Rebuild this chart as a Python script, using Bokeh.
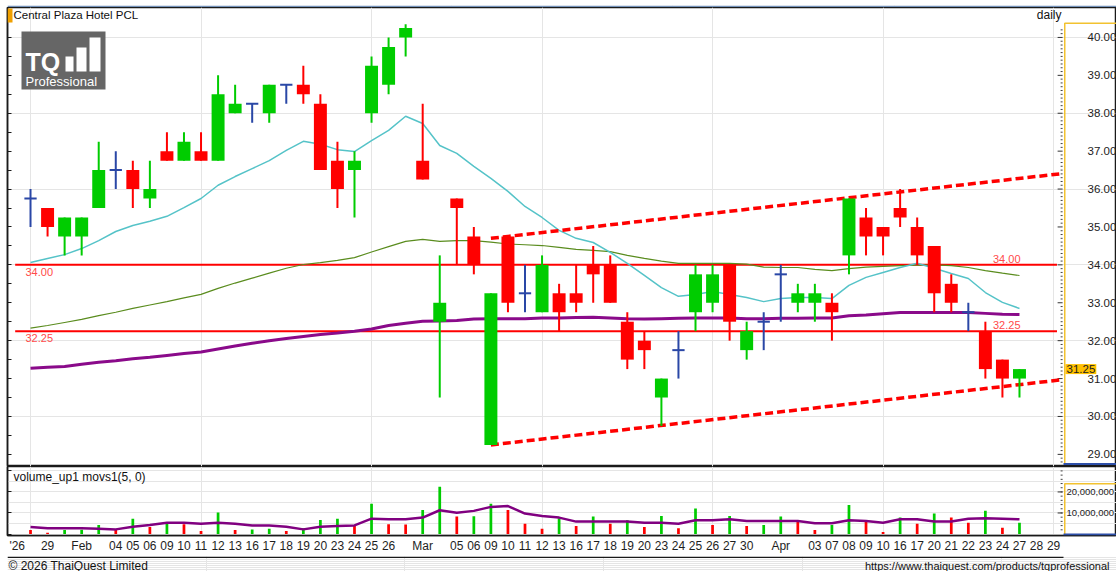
from bokeh.plotting import figure
from bokeh.layouts import column
from bokeh.models import (Range1d, LinearAxis, FixedTicker, SingleIntervalTicker,
                          CustomJSTickFormatter, Label, BoxAnnotation, ColumnDataSource)
from bokeh.embed import file_html
from bokeh.resources import INLINE

FONT = "Liberation Sans"

# ---------------- data ----------------
trade_dates = ["2026-01-28", "2026-01-29", "2026-01-30", "2026-02-02", "2026-02-03", "2026-02-04",
               "2026-02-05", "2026-02-06", "2026-02-09", "2026-02-10", "2026-02-11", "2026-02-12",
               "2026-02-13", "2026-02-16", "2026-02-17", "2026-02-18", "2026-02-19", "2026-02-20",
               "2026-02-23", "2026-02-24", "2026-02-25", "2026-02-26", "2026-02-27", "2026-03-02",
               "2026-03-04", "2026-03-05", "2026-03-06", "2026-03-09", "2026-03-10", "2026-03-11",
               "2026-03-12", "2026-03-13", "2026-03-16", "2026-03-17", "2026-03-18", "2026-03-19",
               "2026-03-20", "2026-03-23", "2026-03-24", "2026-03-25", "2026-03-26", "2026-03-27",
               "2026-03-30", "2026-03-31", "2026-04-01", "2026-04-02", "2026-04-03", "2026-04-07",
               "2026-04-08", "2026-04-09", "2026-04-10", "2026-04-16", "2026-04-17", "2026-04-20",
               "2026-04-21", "2026-04-22", "2026-04-23", "2026-04-24", "2026-04-27"]

date_labels = ["", "29", "", "Feb", "", "04", "05", "06", "09", "10", "11", "12", "13", "16", "17",
               "18", "19", "20", "23", "24", "25", "26", "", "Mar", "", "05", "06", "09", "10", "11",
               "12", "13", "16", "17", "18", "19", "20", "23", "24", "25", "26", "27", "30", "",
               "Apr", "", "03", "07", "08", "09", "10", "16", "17", "20", "21", "22", "23", "24",
               "27", "28", "29"]
year_label = "'26"
year_label_pos = -0.78

opens = [35.75, 35.50, 34.75, 34.75, 35.50, 36.50, 36.50, 35.75, 37.00, 36.75,
         37.00, 36.75, 38.00, 38.25, 38.00, 38.75, 38.75, 38.25, 36.75, 36.50,
         38.00, 38.75, 40.00, 36.75, 32.50, 35.75, 34.75, 29.25, 34.75, 33.25,
         32.75, 33.25, 33.25, 34.00, 34.00, 32.50, 32.00, 30.50, 31.75, 32.75,
         33.00, 34.00, 31.75, 32.50, 33.75, 33.00, 33.00, 33.00, 34.25, 35.25,
         35.00, 35.50, 35.00, 34.50, 33.50, 32.75, 32.25, 31.50, 31.00]
highs = [36.00, 35.50, 35.25, 35.25, 37.25, 37.00, 36.75, 36.75, 37.50, 37.50,
         37.50, 39.00, 38.75, 38.25, 38.75, 38.75, 39.25, 38.50, 37.25, 37.00,
         39.50, 40.00, 40.35, 38.25, 34.25, 35.75, 35.00, 33.25, 34.75, 34.00,
         34.25, 33.50, 34.00, 34.50, 34.25, 32.75, 32.25, 31.00, 32.25, 34.00,
         34.00, 34.00, 32.50, 32.75, 34.00, 33.50, 33.50, 33.25, 35.75, 35.50,
         35.00, 36.00, 35.25, 34.50, 33.75, 33.00, 32.50, 31.50, 31.25]
lows = [35.00, 34.75, 34.25, 34.25, 35.50, 36.00, 35.50, 35.50, 36.75, 36.75,
        36.75, 36.75, 38.00, 37.75, 37.75, 38.25, 38.25, 36.50, 35.50, 35.25,
        37.75, 38.50, 39.50, 36.25, 30.50, 34.00, 33.75, 29.25, 32.75, 32.75,
        32.75, 32.25, 32.75, 33.00, 33.00, 31.25, 31.25, 29.75, 31.00, 32.25,
        32.75, 32.00, 31.50, 31.75, 32.50, 32.75, 32.50, 32.00, 33.75, 34.25,
        34.25, 35.00, 34.00, 32.75, 32.75, 32.25, 31.00, 30.50, 30.50]
closes = [35.75, 35.00, 35.25, 35.25, 36.50, 36.50, 36.00, 36.00, 36.75, 37.25,
          36.75, 38.50, 38.25, 38.25, 38.75, 38.75, 38.50, 36.50, 36.00, 36.75,
          39.25, 39.75, 40.25, 36.25, 33.00, 35.50, 34.00, 33.25, 33.00, 33.25,
          34.00, 32.75, 33.00, 33.75, 33.00, 31.50, 31.75, 31.00, 31.75, 33.75,
          33.75, 32.50, 32.25, 32.50, 33.75, 33.25, 33.25, 32.75, 35.75, 34.75,
          34.75, 35.25, 34.25, 33.25, 33.00, 32.75, 31.25, 31.00, 31.25]

ma_short = [34.06, 34.17, 34.27, 34.43, 34.64, 34.88, 35.04, 35.15, 35.28, 35.51,
            35.75, 36.10, 36.33, 36.54, 36.75, 37.02, 37.26, 37.18, 37.04, 36.99,
            37.28, 37.55, 37.92, 37.73, 37.15, 36.94, 36.60, 36.28, 35.94, 35.54,
            35.25, 34.91, 34.70, 34.59, 34.33, 34.04, 33.72, 33.40, 33.17, 33.22,
            33.30, 33.22, 33.14, 33.03, 33.11, 33.14, 33.14, 33.11, 33.46, 33.67,
            33.80, 33.93, 34.04, 33.91, 33.77, 33.64, 33.27, 33.01, 32.85]
ma_mid = [32.33, 32.40, 32.48, 32.56, 32.66, 32.75, 32.85, 32.94, 33.03, 33.13,
          33.22, 33.38, 33.52, 33.65, 33.78, 33.91, 34.01, 34.06, 34.12, 34.19,
          34.34, 34.48, 34.62, 34.67, 34.62, 34.64, 34.64, 34.60, 34.55, 34.53,
          34.51, 34.46, 34.41, 34.38, 34.35, 34.25, 34.17, 34.10, 34.04, 34.04,
          34.04, 34.04, 34.02, 33.94, 33.93, 33.93, 33.88, 33.85, 33.90, 33.94,
          33.96, 33.98, 33.99, 34.00, 33.98, 33.93, 33.85, 33.78, 33.72]
ma_long = [31.27, 31.30, 31.32, 31.38, 31.43, 31.47, 31.52, 31.56, 31.61, 31.66,
           31.70, 31.78, 31.86, 31.93, 32.00, 32.06, 32.11, 32.16, 32.20, 32.25,
           32.31, 32.40, 32.46, 32.51, 32.52, 32.53, 32.57, 32.58, 32.58, 32.58,
           32.60, 32.60, 32.61, 32.62, 32.60, 32.58, 32.57, 32.58, 32.59, 32.60,
           32.60, 32.60, 32.58, 32.58, 32.59, 32.59, 32.60, 32.60, 32.66, 32.68,
           32.71, 32.74, 32.74, 32.74, 32.74, 32.74, 32.72, 32.70, 32.69]

volume_millions = [1.9, 0.6, 1.9, 2.0, 4.3, 1.9, 7.3, 3.3, 5.7, 4.6,
                   1.4, 10.2, 1.9, 2.2, 2.5, 1.4, 2.7, 6.7, 7.3, 3.8,
                   14.4, 4.6, 4.5, 11.4, 22.5, 8.3, 8.4, 14.4, 11.4, 4.9,
                   2.5, 7.5, 3.8, 8.3, 4.9, 6.5, 3.3, 8.6, 2.7, 12.1,
                   4.3, 8.6, 3.8, 4.3, 8.3, 6.2, 1.9, 4.3, 13.8, 6.2,
                   1.0, 7.8, 4.9, 9.7, 7.8, 5.4, 11.0, 3.0, 5.4]
volume_ma_millions = [3.3, 2.7, 2.7, 2.7, 2.5, 2.2, 3.5, 4.3, 5.4, 5.4,
                      4.9, 5.4, 4.9, 4.1, 4.1, 3.5, 2.2, 3.5, 3.8, 4.1,
                      7.3, 7.0, 7.0, 7.8, 11.3, 10.1, 11.0, 12.9, 13.3, 9.7,
                      8.6, 7.8, 5.9, 5.9, 5.9, 5.9, 5.4, 5.4, 4.9, 6.5,
                      6.5, 7.0, 6.2, 6.2, 6.2, 6.2, 5.1, 5.1, 6.5, 6.2,
                      5.4, 7.0, 7.0, 5.9, 5.9, 7.3, 7.5, 7.3, 7.0]

levels = [34.00, 32.25]
level_labels = ["34.00", "32.25"]
level_x = [-0.9, 60.2]
upper_trend_x = [27, 60.53]
upper_trend_y = [34.70, 36.41]
lower_trend_x = [27, 60.53]
lower_trend_y = [29.25, 30.97]
last_price = 31.25

price_ticks = [29, 30, 31, 32, 33, 34, 35, 36, 37, 38, 39, 40]
volume_ticks = [10_000_000, 20_000_000]

# ---------------- styling / geometry ----------------
UP, DOWN, FLAT = "#00cc00", "#ff0000", "#2a47a6"
YELLOW, BLUE, DARK = "#f2c230", "#2e4fa8", "#1a1a1a"
W = 1116
PX_PER_SLOT = 17.05
x_rng = Range1d(-1.35, 63.69)      # frame spans the full width right of x=7
AXIS_X = 60.53                      # where the value scale sits (x = 1062 px)
MAJ = 5 / PX_PER_SLOT
MIN = 2 / PX_PER_SLOT

n = len(closes)
xs = list(range(n))
colors = [UP if c > o else (DOWN if c < o else FLAT) for o, c in zip(opens, closes)]

body = dict(x=[], top=[], bottom=[], color=[])
doji = dict(x0=[], x1=[], y=[])
for i in xs:
    if opens[i] != closes[i]:
        body["x"].append(i)
        body["top"].append(max(opens[i], closes[i]))
        body["bottom"].append(min(opens[i], closes[i]))
        body["color"].append(colors[i])
    else:
        doji["x0"].append(i - 0.36)
        doji["x1"].append(i + 0.36)
        doji["y"].append(closes[i])


def base_fig(height, y_range, top=0, bottom=0):
    return figure(width=W, height=height, x_range=x_rng, y_range=y_range,
                  output_backend="svg", toolbar_location=None,
                  x_axis_location=None, y_axis_location=None,
                  min_border_left=7, min_border_right=0,
                  min_border_top=top, min_border_bottom=bottom,
                  outline_line_color=DARK, outline_line_width=1.5,
                  background_fill_color="white", border_fill_color="white")


def sbox(fig, l, r, b, t, color):
    fig.add_layout(BoxAnnotation(left=l, right=r, bottom=b, top=t, left_units="screen",
                                 right_units="screen", bottom_units="screen", top_units="screen",
                                 fill_color=color, fill_alpha=1, line_color=None))


def left_ticks(fig, interval):
    ax = LinearAxis(ticker=SingleIntervalTicker(interval=interval, num_minor_ticks=0),
                    formatter=CustomJSTickFormatter(code="return ''"),
                    axis_line_color=DARK, axis_line_width=1.5,
                    major_tick_in=4, major_tick_out=0, minor_tick_in=0, minor_tick_out=0,
                    major_tick_line_color=DARK, major_label_standoff=0)
    fig.add_layout(ax, "left")


# ---------- top strip ----------
strip = figure(width=W, height=7, x_range=Range1d(0, 1), y_range=Range1d(0, 7),
               output_backend="svg", toolbar_location=None,
               x_axis_location=None, y_axis_location=None,
               min_border=0, outline_line_color=None,
               background_fill_color="white", border_fill_color="white")
strip.add_layout(BoxAnnotation(bottom=4, top=7, fill_color="#7391b8", fill_alpha=1, line_color=None))
strip.add_layout(BoxAnnotation(bottom=0, top=2.2, fill_color=DARK, fill_alpha=1, line_color=None))

# ---------- price panel ----------
p = base_fig(459, Range1d(28.68, 40.79))
left_ticks(p, 0.5)

# value-scale box on the right
sbox(p, 1056.5, 1058, 3.5, 443.5, YELLOW)
sbox(p, 1057, 1110, 442.5, 444, YELLOW)
sbox(p, 1056, 1110, 1.5, 3.5, BLUE)
minor_vals = [round(28.8 + 0.1 * k, 2) for k in range(115)]
minor_vals = [v for v in minor_vals if v <= 40.25 and abs(v - round(v)) > 1e-6]
p.segment(x0=[AXIS_X - MIN] * len(minor_vals), x1=[AXIS_X] * len(minor_vals),
          y0=minor_vals, y1=minor_vals, line_color="#444444", line_width=1)
p.segment(x0=[AXIS_X - MAJ] * len(price_ticks), x1=[AXIS_X] * len(price_ticks),
          y0=price_ticks, y1=price_ticks, line_color="#333333", line_width=1)
for t in price_ticks:
    p.add_layout(Label(x=1080, x_units="screen", y=t, text="%.2f" % t, text_baseline="middle",
                       text_font=FONT, text_font_size="11.5px", text_color="#222222"))

# support / resistance levels
p.segment(x0=[level_x[0]] * len(levels), x1=[level_x[1]] * len(levels), y0=levels, y1=levels,
          line_color="#ff0000", line_width=2)
# moving averages
p.line(xs, ma_mid, line_color="#5a8c1e", line_width=1.2)
p.line(xs, ma_long, line_color="#8a0a8a", line_width=3)
p.line(xs, ma_short, line_color="#55c3c8", line_width=1.5)
# trend channel
p.line(upper_trend_x, upper_trend_y, line_color="#ff0000", line_width=3.5, line_dash="8 4")
p.line(lower_trend_x, lower_trend_y, line_color="#ff0000", line_width=3.5, line_dash="8 4")

# candles
p.segment(x0=xs, y0=lows, x1=xs, y1=highs, line_color=colors, line_width=2)
p.vbar(x="x", top="top", bottom="bottom", width=0.76, fill_color="color", line_color=None,
       source=ColumnDataSource(body))
p.segment(x0="x0", y0="y", x1="x1", y1="y", line_color=FLAT, line_width=2,
          source=ColumnDataSource(doji))

for lv, txt in zip(levels, level_labels):
    p.add_layout(Label(x=18, x_units="screen", y=lv, text=txt, text_baseline="top",
                       y_offset=-3, text_font=FONT, text_font_size="11px", text_color="#ff4a4a"))
    p.add_layout(Label(x=1013, x_units="screen", y=lv, text=txt, text_baseline="bottom",
                       text_align="right", y_offset=2, text_font=FONT, text_font_size="11px",
                       text_color="#ff4a4a"))

p.add_layout(Label(x=1058, x_units="screen", y=last_price, text="%.2f" % last_price,
                   text_baseline="middle", text_font=FONT, text_font_size="11.5px",
                   text_color="#222222", background_fill_color="#ffc000",
                   background_fill_alpha=1, padding=1))

# header texts
sbox(p, 0, 5, 444, 458, "#f0a000")
p.add_layout(Label(x=6, y=452, x_units="screen", y_units="screen", text="Central Plaza Hotel PCL",
                   text_baseline="middle", text_font=FONT, text_font_size="11.5px",
                   text_color="#111111"))
p.add_layout(Label(x=1054, y=452, x_units="screen", y_units="screen", text="daily",
                   text_baseline="middle", text_align="right", text_font=FONT,
                   text_font_size="12px", text_color="#111111"))

# logo
sbox(p, 14, 98, 377, 435, "#666666")
for (l, r, b, t) in [(58, 66, 395, 410), (69, 79, 395, 419), (82, 93, 395, 429)]:
    sbox(p, l, r, b, t, "white")
p.add_layout(Label(x=18, y=405, x_units="screen", y_units="screen", text="TQ",
                   text_baseline="middle", text_font=FONT, text_font_size="25px",
                   text_font_style="bold", text_color="white"))
p.add_layout(Label(x=18, y=385, x_units="screen", y_units="screen", text="Professional",
                   text_baseline="middle", text_font=FONT, text_font_size="13px",
                   text_color="white"))

# ---------- volume panel ----------
volumes = [v * 1_000_000 for v in volume_millions]
volume_ma = [v * 1_000_000 for v in volume_ma_millions]
vol_colors = [DOWN] + [UP if volumes[i] > volumes[i - 1] else DOWN for i in range(1, n)]

pv = base_fig(90, Range1d(-0.71e6, 32.1e6), top=0, bottom=21)
left_ticks(pv, 10e6)
pv.vbar(x=xs, top=volumes, bottom=0, width=0.16, fill_color=vol_colors, line_color=None)
pv.line(xs, volume_ma, line_color="#800080", line_width=2.5)

sbox(pv, 1056.5, 1058, 1, 52, YELLOW)
sbox(pv, 1057, 1110, 51, 52.5, YELLOW)
sbox(pv, 1056, 1110, 0, 2, BLUE)
vminor = [k * 2_000_000 for k in range(1, 16)]
pv.segment(x0=[AXIS_X - MIN] * len(vminor), x1=[AXIS_X] * len(vminor),
           y0=vminor, y1=vminor, line_color="#444444", line_width=1)
pv.segment(x0=[AXIS_X - MAJ] * len(volume_ticks), x1=[AXIS_X] * len(volume_ticks),
           y0=volume_ticks, y1=volume_ticks, line_color="#333333", line_width=1)
for t in volume_ticks:
    pv.add_layout(Label(x=1059, x_units="screen", y=t, text="{:,}".format(t), text_baseline="middle",
                        text_font=FONT, text_font_size="9.5px", text_color="#222222"))

tick_pos = [i for i, s in enumerate(date_labels) if s]
overrides = {i: date_labels[i] for i in tick_pos}
overrides[year_label_pos] = year_label
xa = LinearAxis(ticker=FixedTicker(ticks=[year_label_pos] + tick_pos, minor_ticks=[]),
                major_label_overrides=overrides,
                axis_line_color=DARK, axis_line_width=1.5,
                major_tick_in=0, major_tick_out=0, minor_tick_in=0, minor_tick_out=0,
                major_label_standoff=3, major_label_text_font=FONT,
                major_label_text_font_size="12px", major_label_text_color="#1e1e1e")
pv.add_layout(xa, "below")
pv.add_layout(Label(x=6, y=59, x_units="screen", y_units="screen", text="volume_up1 movs1(5, 0)",
                    text_baseline="middle", text_font=FONT, text_font_size="12px",
                    text_color="#111111"))

# ---------- footer ----------
foot = figure(width=W, height=15, x_range=Range1d(0, W), y_range=Range1d(0, 15),
              output_backend="svg", toolbar_location=None,
              x_axis_location=None, y_axis_location=None,
              min_border_left=7, min_border_right=0, min_border_top=0, min_border_bottom=0,
              outline_line_color=None,
              background_fill_color="white", border_fill_color="white")
sbox(foot, 0, 1056, 13.6, 15, DARK)
foot.add_layout(Label(x=1, y=6, x_units="screen", y_units="screen",
                      text="\u00a9 2026 ThaiQuest Limited", text_baseline="middle",
                      text_font=FONT, text_font_size="12px", text_color="#111111"))
foot.add_layout(Label(x=1102, y=6, x_units="screen", y_units="screen", text_align="right",
                      text="https://www.thaiquest.com/products/tqprofessional", text_baseline="middle",
                      text_font=FONT, text_font_size="11px", text_color="#111111"))

layout = column(strip, p, pv, foot, spacing=0)
open("out.html", "w").write(file_html(layout, INLINE))
